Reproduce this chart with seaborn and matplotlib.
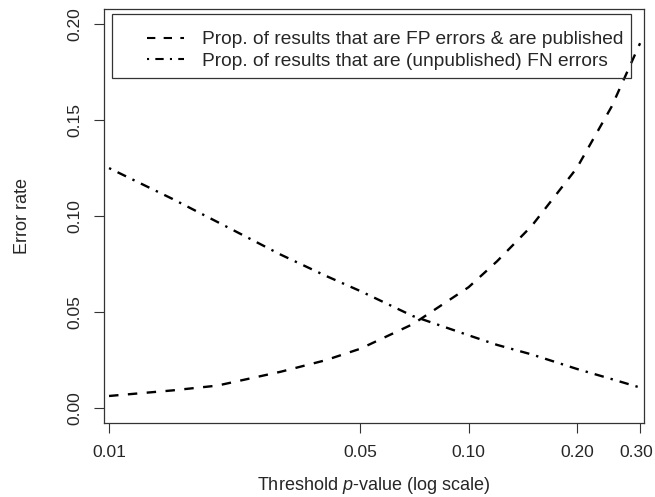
import pandas as pd
import seaborn as sns
import matplotlib.pyplot as plt
import matplotlib.transforms as mtransforms
from matplotlib.patches import Rectangle

# Values
p_values = [0.01, 0.015, 0.02, 0.03, 0.04, 0.05, 0.07, 0.1, 0.12, 0.15, 0.2, 0.25, 0.3]
fp_published = [0.0064, 0.0093, 0.0118, 0.019, 0.025, 0.031, 0.0438, 0.063, 0.0765, 0.095, 0.125, 0.157, 0.19]
fn_unpublished = [0.125, 0.109, 0.097, 0.080, 0.069, 0.061, 0.048, 0.038, 0.033, 0.028, 0.0205, 0.0152, 0.0108]
series_labels = ['Prop. of results that are FP errors & are published',
                 'Prop. of results that are (unpublished) FN errors']
x_ticks = [0.01, 0.05, 0.10, 0.20, 0.30]
x_tick_labels = ['0.01', '0.05', '0.10', '0.20', '0.30']
y_ticks = [0.00, 0.05, 0.10, 0.15, 0.20]
y_tick_labels = ['0.00', '0.05', '0.10', '0.15', '0.20']

df = pd.DataFrame({
    'p': p_values * 2,
    'rate': fp_published + fn_unpublished,
    'series': [series_labels[0]] * len(p_values) + [series_labels[1]] * len(p_values),
})

sns.set_style('ticks')
plt.rcParams['font.family'] = ['Liberation Sans', 'DejaVu Sans']
plt.rcParams['mathtext.fontset'] = 'custom'
plt.rcParams['mathtext.it'] = 'Liberation Sans:italic'
plt.rcParams['mathtext.rm'] = 'Liberation Sans'

fig = plt.figure(figsize=(6.55, 4.97), dpi=100)
ax = fig.add_axes([0.1588, 0.1495, 0.8244, 0.8324])

line_dashes = [(4, 4), (1, 3, 4, 3)]
sns.lineplot(data=df, x='p', y='rate', hue='series', style='series',
             palette=['black', 'black'], dashes=line_dashes,
             linewidth=1.7, ax=ax, legend=False)

ax.set_xscale('log')
ax.set_xlim(10 ** -2.014, 10 ** -0.512)
ax.set_ylim(-0.0075, 0.2078)
ax.set_xticks(x_ticks)
ax.set_xticklabels(x_tick_labels, fontsize=12.5)
ax.minorticks_off()
ax.set_yticks(y_ticks)
ax.set_yticklabels(y_tick_labels, fontsize=12.5, rotation=90, va='center')
ax.tick_params(direction='out', length=7.2, width=0.8, color='#333333')
ax.tick_params(axis='x', pad=8.5)
ax.tick_params(axis='y', pad=8.5)

# nudge the last x label left a little so it stays inside the figure
last = ax.get_xticklabels()[-1]
last.set_transform(last.get_transform() +
                   mtransforms.ScaledTranslation(-4 / 100, 0, fig.dpi_scale_trans))

for s in ax.spines.values():
    s.set_visible(True)
    s.set_color('#333333')
    s.set_linewidth(0.9)

ax.set_xlabel('Threshold $\\mathit{p}$-value (log scale)', fontsize=13, labelpad=11)
ax.set_ylabel('Error rate', fontsize=13, labelpad=26)

# legend frame drawn separately, entries placed inside it
ax.add_patch(Rectangle((0.0148, 0.833), 0.9611, 0.155, transform=ax.transAxes,
                       fill=False, edgecolor='#333333', linewidth=0.9, zorder=5))
handles = [plt.Line2D([], [], color='black', lw=1.5, dashes=line_dashes[0]),
           plt.Line2D([], [], color='black', lw=1.5, dashes=line_dashes[1])]
ax.legend(handles, series_labels, loc='upper left', bbox_to_anchor=(0.0796, 0.947),
          fontsize=13.8, frameon=False, handlelength=1.95, handletextpad=0.9,
          borderpad=0, labelspacing=0.2, borderaxespad=0)

fig.savefig('out.png', dpi=100)
